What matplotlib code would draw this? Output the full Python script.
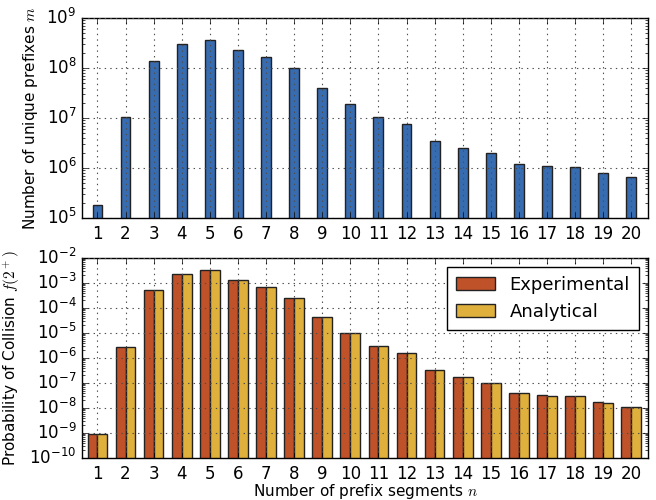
import matplotlib
matplotlib.use("Agg")
import matplotlib.pyplot as plt
import numpy as np

segments = list(range(1, 21))

unique_prefixes = [1.85e5, 1.03e7, 1.38e8, 3.07e8, 3.57e8, 2.26e8, 1.63e8, 9.85e7,
                   3.98e7, 1.9e7, 1.05e7, 7.6e6, 3.5e6, 2.55e6, 1.97e6, 1.2e6,
                   1.08e6, 1.05e6, 7.8e5, 6.5e5]

experimental = [9.4e-10, 2.75e-6, 5.1e-4, 2.36e-3, 3.2e-3, 1.28e-3, 6.9e-4, 2.5e-4,
                4.2e-5, 1.0e-5, 2.9e-6, 1.54e-6, 3.3e-7, 1.74e-7, 1.03e-7, 3.86e-8,
                3.2e-8, 3.1e-8, 1.69e-8, 1.06e-8]
analytical = [9.4e-10, 2.75e-6, 5.1e-4, 2.36e-3, 3.2e-3, 1.28e-3, 6.9e-4, 2.5e-4,
              4.2e-5, 1.0e-5, 2.9e-6, 1.54e-6, 3.3e-7, 1.74e-7, 1.03e-7, 3.86e-8,
              3.1e-8, 3.0e-8, 1.58e-8, 1.13e-8]

plt.style.use("classic")
plt.rcParams["figure.facecolor"] = "white"
plt.rcParams["savefig.facecolor"] = "white"
plt.rcParams["axes.unicode_minus"] = False
plt.rcParams["font.size"] = 11

BLUE = "#386cb0"
ORANGE = "#c0522a"
YELLOW = "#e0b03c"
EDGE = "#222222"

fig = plt.figure(figsize=(6.56, 5.0), dpi=100)
ax1 = fig.add_axes([0.125, 0.564, 0.863, 0.40])
ax2 = fig.add_axes([0.125, 0.084, 0.863, 0.40])

x = np.array(segments)
w = 0.35

ax1.bar(x, unique_prefixes, width=w, align="center", color=BLUE,
        edgecolor=EDGE, linewidth=1.0, bottom=1)
ax1.set_yscale("log")
ax1.set_ylim(1e5, 1e9)
ax1.set_xlim(0.45, 20.6)
ax1.set_xticks(segments)
ax1.tick_params(axis="both", labelsize=12)
ax1.tick_params(axis="x", pad=5)
ax1.set_ylabel("Number of unique prefixes $m$")
ax1.grid(True, color="0.3", linestyle=":", linewidth=0.8)

ax2.bar(x - w / 2, experimental, width=w, align="center", color=ORANGE,
        edgecolor=EDGE, linewidth=1.0, label="Experimental", bottom=1e-12)
ax2.bar(x + w / 2, analytical, width=w, align="center", color=YELLOW,
        edgecolor=EDGE, linewidth=1.0, label="Analytical", bottom=1e-12)
ax2.set_yscale("log")
ax2.set_ylim(1e-10, 1e-2)
ax2.set_xlim(0.45, 20.6)
ax2.set_xticks(segments)
ax2.set_yticks([10.0 ** k for k in range(-10, -1)])
ax2.tick_params(axis="both", labelsize=12)
ax2.tick_params(axis="x", pad=5)
ax2.set_ylabel("Probability of Collision $f(2^+)$")
ax2.set_xlabel("Number of prefix segments $n$", labelpad=-1)
ax2.grid(True, color="0.3", linestyle=":", linewidth=0.8)
ax2.legend(loc="upper right", fontsize=13, handlelength=2.2, borderpad=0.5,
           labelspacing=0.5)

fig.savefig("out.png", dpi=100)
